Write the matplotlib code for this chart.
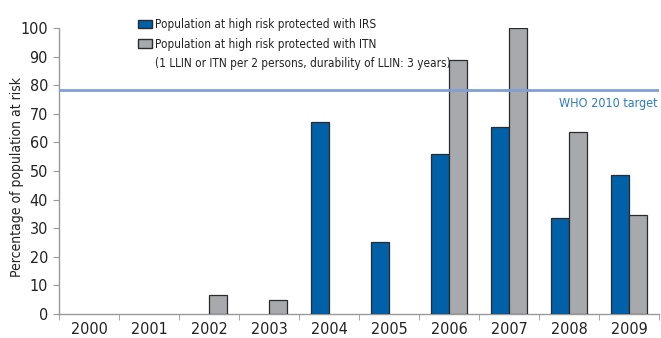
import numpy as np
import matplotlib
matplotlib.use('Agg')
import matplotlib.pyplot as plt
from matplotlib.patches import Patch
from matplotlib.ticker import FixedLocator, NullFormatter

years = ['2000', '2001', '2002', '2003', '2004', '2005', '2006', '2007', '2008', '2009']
irs = [np.nan, np.nan, np.nan, np.nan, 67.0, 25.2, 55.8, 65.4, 33.7, 48.6]
itn = [np.nan, np.nan, 6.5, 4.9, np.nan, np.nan, 89.0, 100.0, 63.5, 34.5]
who_target = 78.3

plt.rcParams['font.family'] = ['DejaVu Sans']
plt.rcParams['font.stretch'] = 'condensed'

fig = plt.figure(figsize=(6.61, 3.38), dpi=100)
ax = fig.add_axes([0.0893, 0.071, 0.908, 0.846])

x = np.arange(len(years))
w = 0.3
irs_arr = np.array(irs)
itn_arr = np.array(itn)
m1 = ~np.isnan(irs_arr)
m2 = ~np.isnan(itn_arr)
ax.bar(x[m1] - w / 2, irs_arr[m1], w, color='#0060A8', edgecolor='#2b2b2b', linewidth=0.9, zorder=3)
ax.bar(x[m2] + w / 2, itn_arr[m2], w, color='#A7A9AC', edgecolor='#2b2b2b', linewidth=0.9, zorder=3)

ax.axhline(who_target, color='#809FD2', linewidth=2, zorder=4)
ax.text(9.47, who_target - 2.3, 'WHO 2010 target', color='#2F7BC0', fontsize=9,
        ha='right', va='top')

ax.set_xlim(-0.5, 9.5)
ax.set_ylim(0, 100)
ax.set_xticks(x)
ax.set_xticklabels(years, fontsize=11.5, color='#222222')
ax.xaxis.set_minor_locator(FixedLocator(np.arange(-0.5, 10, 1)))
ax.xaxis.set_minor_formatter(NullFormatter())
ax.tick_params(axis='x', which='major', length=0, pad=6)
ax.tick_params(axis='x', which='minor', length=4, color='#999999', direction='out')
ax.set_yticks(range(0, 101, 10))
ax.tick_params(axis='y', labelsize=11.5, labelcolor='#222222', length=4, color='#999999', pad=4)
ax.set_ylabel('Percentage of population at risk', fontsize=10, color='#222222')
ax.yaxis.set_label_coords(-0.058, 0.48)

for s in ['top', 'right']:
    ax.spines[s].set_visible(False)
for s in ['left', 'bottom']:
    ax.spines[s].set_color('#999999')
    ax.spines[s].set_linewidth(1)

handles = [Patch(facecolor='#0060A8', edgecolor='#2b2b2b'),
           Patch(facecolor='#A7A9AC', edgecolor='#2b2b2b'),
           Patch(facecolor='none', edgecolor='none')]
labels = ['Population at high risk protected with IRS',
          'Population at high risk protected with ITN',
          '(1 LLIN or ITN per 2 persons, durability of LLIN: 3 years)']
leg = ax.legend(handles, labels, loc='upper left', bbox_to_anchor=(0.132, 1.035),
                frameon=False, fontsize=8.5, handlelength=1.2, handleheight=0.7,
                handletextpad=0.25, labelspacing=0.55, borderaxespad=0, borderpad=0)
for t in leg.get_texts():
    t.set_color('#222222')

fig.savefig('out.png', dpi=100)
